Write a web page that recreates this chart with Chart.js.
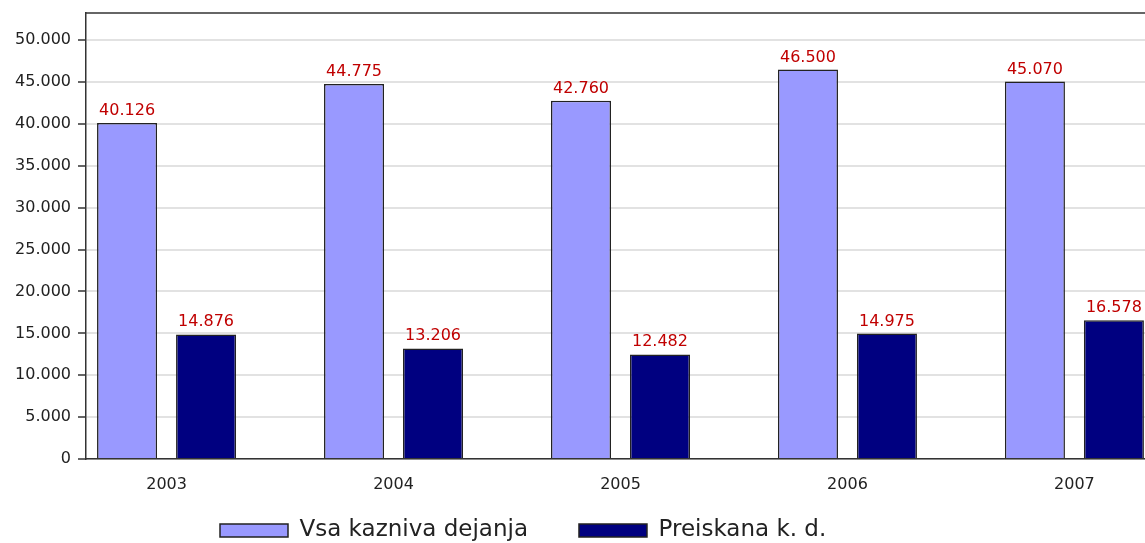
<!DOCTYPE html>
<html>
<head>
<meta charset="utf-8">
<title>Kazniva dejanja 2003–2007</title>
<script src="https://cdn.jsdelivr.net/npm/chart.js@4/dist/chart.umd.min.js"></script>
<style>
  html, body { margin: 0; padding: 0; background: #fff; overflow: hidden; }
  #wrap { width: 1145px; height: 543px; }
</style>
</head>
<body>
<div id="wrap"><canvas id="chart" width="1145" height="543"></canvas></div>
<script>
// ===== Data =====
const years = [2003, 2004, 2005, 2006, 2007];
const allOffences = [40126, 44775, 42760, 46500, 45070];   // Vsa kazniva dejanja
const investigated = [14876, 13206, 12482, 14975, 16578];  // Preiskana k. d.
const yTickValues = [0, 5000, 10000, 15000, 20000, 25000, 30000, 35000, 40000, 45000, 50000];
const seriesNames = ['Vsa kazniva dejanja', 'Preiskana k. d.'];

// 40126 -> "40.126"
const fmt = v => String(v).replace(/\B(?=(\d{3})+(?!\d))/g, '.');

Chart.defaults.font.family = "'DejaVu Sans', sans-serif";
Chart.defaults.color = '#222';

// ===== Plugins =====
// red value above every bar
const barValueLabels = {
  id: 'barValueLabels',
  afterDatasetsDraw(chart) {
    const ctx = chart.ctx;
    ctx.save();
    ctx.font = "16px 'DejaVu Sans', sans-serif";
    ctx.fillStyle = '#c00000';
    ctx.textAlign = 'center';
    ctx.textBaseline = 'alphabetic';
    chart.data.datasets.forEach((ds, i) => {
      chart.getDatasetMeta(i).data.forEach((bar, j) => {
        ctx.fillText(fmt(ds.data[j].y), bar.x, bar.y - 8);
      });
    });
    ctx.restore();
  }
};

// top edge of the plot frame
const plotFrame = {
  id: 'plotFrame',
  beforeDatasetsDraw(chart) {
    const { ctx, chartArea: a } = chart;
    ctx.save();
    ctx.strokeStyle = '#333';
    ctx.lineWidth = 1.5;
    ctx.beginPath();
    ctx.moveTo(a.left, a.top);
    ctx.lineTo(a.right, a.top);
    ctx.stroke();
    ctx.restore();
  }
};

// put the legend row where the original has it
const legendPlace = {
  id: 'legendPlace',
  afterLayout(chart) {
    const lg = chart.legend;
    const pad = lg.options.labels.padding;
    lg.left = 220 - pad;
    lg.top = 519 - pad;
  }
};

// ===== Chart =====
new Chart(document.getElementById('chart'), {
  type: 'bar',
  data: {
    datasets: [
      {
        label: seriesNames[0],
        data: years.map((y, i) => ({ x: y, y: allOffences[i] })),
        backgroundColor: '#9999ff',
        borderColor: '#222',
        borderWidth: 1.5
      },
      {
        label: seriesNames[1],
        data: years.map((y, i) => ({ x: y, y: investigated[i] })),
        backgroundColor: '#000080',
        borderColor: '#222',
        borderWidth: 1.5
      }
    ]
  },
  options: {
    responsive: false,
    animation: false,
    categoryPercentage: 0.696,
    barPercentage: 0.76,
    layout: { padding: { top: 13, left: 0, right: 0, bottom: 0 } },
    plugins: {
      tooltip: { enabled: false },
      legend: {
        position: 'bottom',
        align: 'start',
        maxHeight: 40,
        labels: {
          boxWidth: 68,
          boxHeight: 13,
          padding: 51,
          color: '#222',
          font: { size: 23 }
        }
      }
    },
    scales: {
      x: {
        type: 'linear',
        min: 2002.645,
        max: 2007.311,
        offset: false,
        afterBuildTicks: s => { s.ticks = years.map(v => ({ value: v })); },
        afterFit: s => { s.height = 44; },
        grid: { display: false, drawTicks: false },
        border: { display: true, color: '#333', width: 1.5 },
        ticks: {
          padding: 16,
          font: { size: 16 },
          color: '#222',
          callback: v => String(v)
        }
      },
      y: {
        min: 0,
        max: 53250,
        afterBuildTicks: s => { s.ticks = yTickValues.map(v => ({ value: v })); },
        afterFit: s => { s.width = 86; },
        grid: {
          color: '#e2e2e2',
          lineWidth: 2,
          tickLength: 8,
          tickColor: '#333',
          tickWidth: 1.5
        },
        border: { display: true, color: '#333', width: 1.5 },
        ticks: {
          padding: 7,
          font: { size: 16, lineHeight: 0.5 },
          color: '#222',
          callback: v => fmt(v)
        }
      }
    }
  },
  plugins: [barValueLabels, plotFrame, legendPlace]
});
</script>
</body>
</html>
